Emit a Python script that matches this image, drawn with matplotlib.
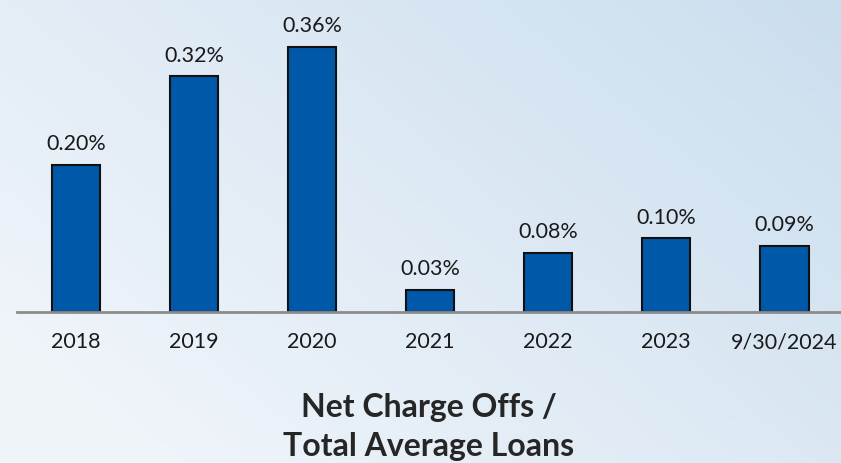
import matplotlib.pyplot as plt
import numpy as np

# data
categories = ['2018', '2019', '2020', '2021', '2022', '2023', '9/30/2024']
values = [0.20, 0.32, 0.36, 0.03, 0.08, 0.10, 0.09]
title = 'Net Charge Offs /\nTotal Average Loans'

plt.rcParams['font.family'] = ['Lato', 'DejaVu Sans']

fig = plt.figure(figsize=(8.41, 4.64), dpi=100)

# fondo degradado azul claro
bg = fig.add_axes([0, 0, 1, 1])
gx = np.linspace(0, 1, 200)
gy = np.linspace(0, 1, 120)
X, Y = np.meshgrid(gx, gy)
t = np.clip(0.6 * X + 0.4 * (1 - Y) - 0.1, 0, 1)
c0 = np.array([0.94, 0.96, 0.98])
c1 = np.array([0.78, 0.86, 0.93])
img = c0[None, None, :] * (1 - t[..., None]) + c1[None, None, :] * t[..., None]
bg.imshow(img, aspect='auto', extent=[0, 1, 0, 1], origin='upper')
bg.axis('off')

ax = fig.add_axes([17 / 841, 0.3254, 824 / 841, 0.6345])
ax.patch.set_alpha(0)
x = np.arange(len(categories))
ax.bar(x, values, width=0.41, color='#0058a8', edgecolor='#111111', linewidth=1.5)
for xi, v in zip(x, values):
    ax.text(xi, v + 0.016, f'{v:.2f}%', ha='center', va='bottom', fontsize=15.5, color='#1a1a1a')

ax.set_xlim(-0.5, 6.48)
ax.set_ylim(0, 0.40)
ax.set_xticks(x)
ax.set_xticklabels(categories, fontsize=15.5, color='#1a1a1a')
ax.tick_params(axis='x', length=0, pad=14)
ax.set_yticks([])
for s in ['top', 'right', 'left']:
    ax.spines[s].set_visible(False)
ax.spines['bottom'].set_color('#8c8c8c')
ax.spines['bottom'].set_linewidth(2)

fig.text(429 / 841, 1 - 427 / 464, title, ha='center', va='center', fontsize=23,
         fontweight='bold', color='#262626', linespacing=1.42)

fig.savefig('out.png', dpi=100)
